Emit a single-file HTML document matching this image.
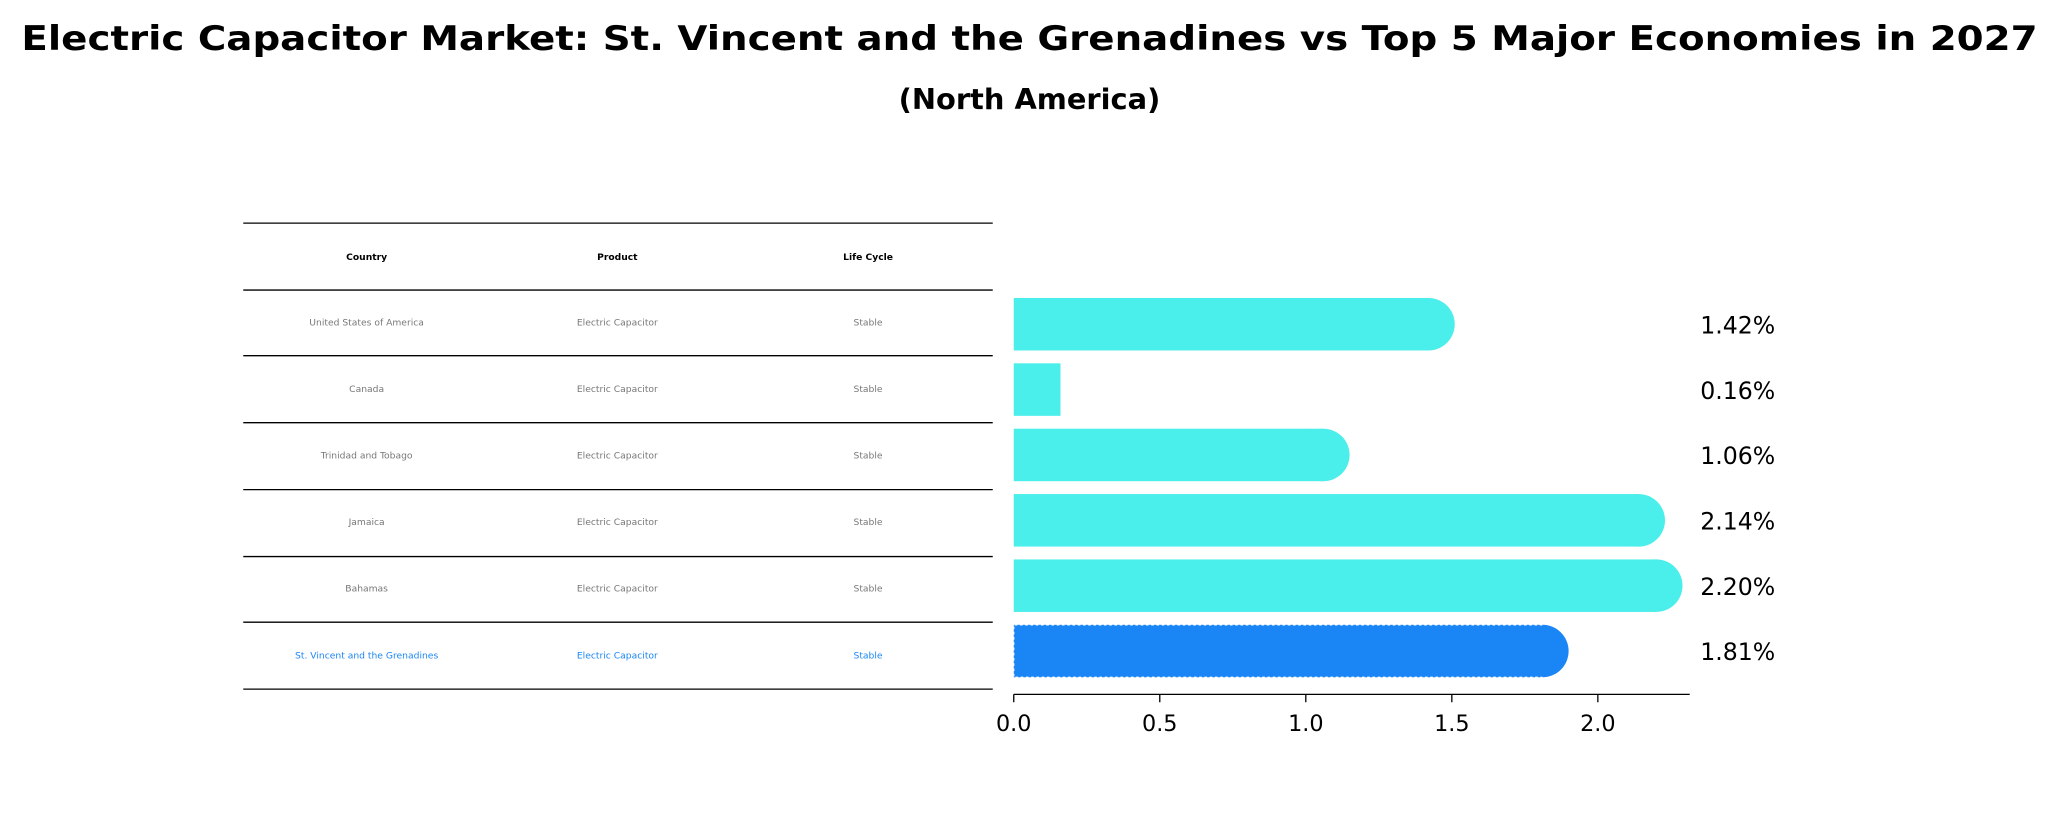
<!DOCTYPE html>
<html><head><meta charset="utf-8"><style>
body{margin:0;background:#fff;width:2059px;height:823px;overflow:hidden;font-family:"DejaVu Sans","Liberation Sans",sans-serif}
</style></head><body>
<svg width="2059" height="823" viewBox="0 0 1568 627" xmlns="http://www.w3.org/2000/svg" font-family="DejaVu Sans, Liberation Sans, sans-serif">
<text x="784" y="38" text-anchor="middle" font-size="26" font-weight="bold" textLength="1536" lengthAdjust="spacingAndGlyphs">Electric Capacitor Market: St. Vincent and the Grenadines vs Top 5 Major Economies in 2027</text>
<text x="784" y="83" text-anchor="middle" font-size="22" font-weight="bold">(North America)</text>
<g id="table"></g>
<g id="bars"></g>
<g id="axis"></g>
</svg>
<script>
const countries=["United States of America","Canada","Trinidad and Tobago","Jamaica","Bahamas","St. Vincent and the Grenadines"];
const values=[1.42,0.16,1.06,2.14,2.20,1.81];
const ticks=[0,0.5,1.0,1.5,2.0];
const NS="http://www.w3.org/2000/svg";
function mk(t,a,p){const e=document.createElementNS(NS,t);for(const k in a)e.setAttribute(k,a[k]);p.appendChild(e);return e;}
const x0=772,scale=222.5;
const xs=v=>x0+v*scale;
const rowY=i=>247+i*49.8;
const tbl=document.getElementById('table'),bars=document.getElementById('bars'),ax=document.getElementById('axis');
const lines=[170,221,271,322,373,424,474,525];
lines.forEach((y,i)=>{const l=mk('line',{x1:185,x2:756,y1:y,y2:y,stroke:'#000','stroke-width':1},tbl);

});
const cols=[279,470,661];
["Country","Product","Life Cycle"].forEach((h,j)=>{const t=mk('text',{x:cols[j],y:198,'text-anchor':'middle','font-size':7,'font-weight':'bold'},tbl);t.textContent=h;

});
countries.forEach((c,i)=>{const y=248+i*50.7;const last=i===countries.length-1;
[c,"Electric Capacitor","Stable"].forEach((s,j)=>{const t=mk('text',{x:cols[j],y:y,'text-anchor':'middle','font-size':7,fill:last?'#1a86f5':'#777'},tbl);t.textContent=s;

});});
values.forEach((v,i)=>{const cy=rowY(i),h=40,last=i===values.length-1;const col=last?'#1a86f5':'#4aeeea';
const r=mk('rect',{x:x0,y:cy-h/2,width:xs(v)-x0,height:h,fill:col},bars);


if(v>0.3){const c=mk('circle',{cx:xs(v),cy:cy,r:h/2,fill:col},bars);

}
if(last){const p=mk('path',{d:'M'+xs(v)+' '+(cy-h/2)+' H'+x0+' V'+(cy+h/2)+' H'+xs(v),fill:'none',stroke:'#fff','stroke-width':1,'stroke-dasharray':'2,2'},bars);

}
const t=mk('text',{x:1295,y:cy+7,'font-size':18},bars);t.textContent=v.toFixed(2)+'%';

});
mk('line',{x1:x0,x2:1287,y1:529,y2:529,stroke:'#000','stroke-width':1},ax);
ticks.forEach(v=>{mk('line',{x1:xs(v),x2:xs(v),y1:529,y2:535,stroke:'#000','stroke-width':1},ax);
const t=mk('text',{x:xs(v),y:557,'text-anchor':'middle','font-size':17},ax);t.textContent=v.toFixed(1);

});
</script>
</body></html>
